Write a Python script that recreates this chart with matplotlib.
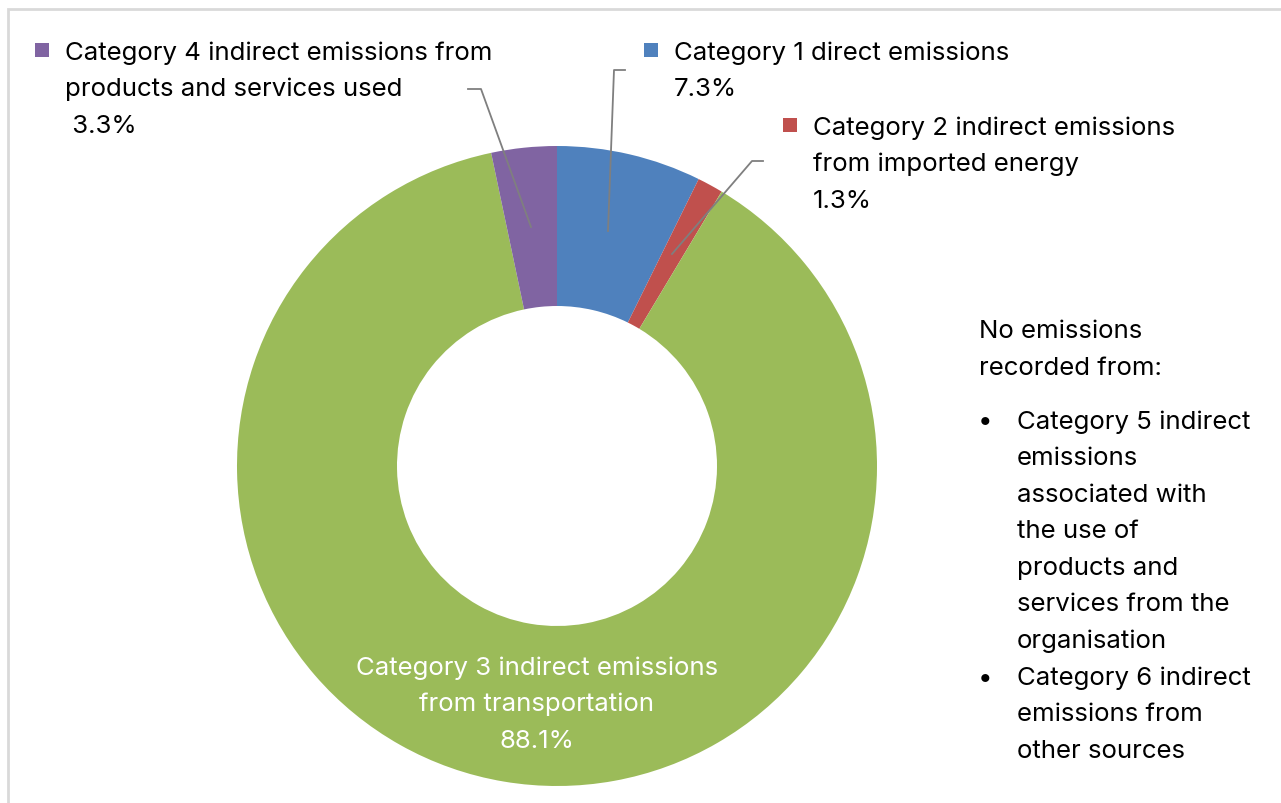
import matplotlib.pyplot as plt
from matplotlib.patches import Rectangle

plt.rcParams['font.family'] = ['Inter', 'DejaVu Sans']

W, H = 1281, 804
FS = 18.6

categories = ['Category 1 direct emissions',
              'Category 2 indirect emissions\nfrom imported energy',
              'Category 3 indirect emissions\nfrom transportation',
              'Category 4 indirect emissions from\nproducts and services used']
shares = [7.3, 1.3, 88.1, 3.3]
colors = ['#4F81BD', '#C0504D', '#9BBB59', '#8064A2']
pct_labels = ['7.3%', '1.3%', '88.1%', ' 3.3%']

none_header = 'No emissions\nrecorded from:'
none_items = ['Category 5 indirect\nemissions\nassociated with\nthe use of\nproducts and\nservices from the\norganisation',
              'Category 6 indirect\nemissions from\nother sources']


def Y(p):
    # pixel row (from top) -> data y
    return H - p


def lines(x, y0, txt, step=36.6, **kw):
    for i, s in enumerate(txt.split('\n')):
        ax.text(x, Y(y0 + i * step), s, va='center', fontsize=FS, **kw)


fig = plt.figure(figsize=(W / 100, H / 100), dpi=100)
ax = fig.add_axes([0, 0, 1, 1])

ax.pie(shares, colors=colors, startangle=90, counterclock=False,
       center=(557, Y(467)), radius=320,
       wedgeprops=dict(width=160, edgecolor='none'))
# pie resets the limits, so set them afterwards
ax.set_xlim(0, W)
ax.set_ylim(0, H)
ax.set_aspect('equal')
ax.axis('off')

# chart frame
ax.add_patch(Rectangle((8, -20), W + 20, Y(10) + 20, fill=False,
                       edgecolor='#d9d9d9', lw=2))

# leader lines
lc = '#7f7f7f'
ax.plot([625, 614, 608], [Y(71), Y(71), Y(232)], color=lc, lw=1.3)
ax.plot([468, 481, 531], [Y(90), Y(90), Y(228)], color=lc, lw=1.3)
ax.plot([763, 752, 672], [Y(162), Y(162), Y(255)], color=lc, lw=1.3)

# legend squares
for (x, y), c in zip([(651, 51), (790, 126), (42, 51)], [colors[0], colors[1], colors[3]]):
    ax.add_patch(Rectangle((x - 7, Y(y) - 7), 14, 14, color=c, lw=0))

lines(674, 53, categories[0] + '\n' + pct_labels[0])
lines(813, 128, categories[1] + '\n' + pct_labels[1])
lines(65, 53, categories[3] + '\n' + pct_labels[3])
lines(537, 668, categories[2] + '\n' + pct_labels[2], ha='center', color='white')

lines(979, 332, none_header)
y = 422
for item in none_items:
    ax.text(985, Y(y), '\u2022', va='center', ha='center', fontsize=FS)
    lines(1017, y, item)
    y += 36.6 * len(item.split('\n'))

fig.savefig('out.png', dpi=100)
